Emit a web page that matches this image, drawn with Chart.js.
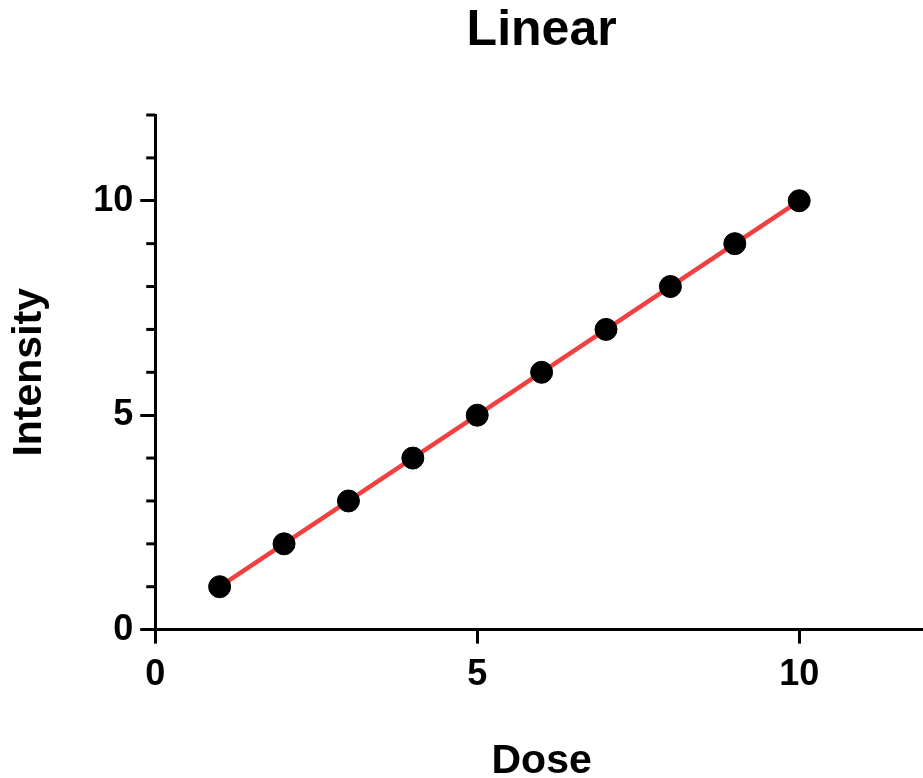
<!DOCTYPE html>
<html>
<head>
<meta charset="utf-8">
<script src="https://cdn.jsdelivr.net/npm/chart.js@4.4.0/dist/chart.umd.min.js"></script>
<style>
  html, body { margin: 0; padding: 0; background: #fff; overflow: hidden; }
  #wrap { width: 940px; height: 778px; }
</style>
</head>
<body>
<div id="wrap"><canvas id="chart"></canvas></div>
<script>
// data
const doses = [1, 2, 3, 4, 5, 6, 7, 8, 9, 10];
const intensity = [1, 2, 3, 4, 5, 6, 7, 8, 9, 10];
const fitX = [1, 10];
const fitY = [1, 10];
const yLabels = [0, 5, 10];
const xLabels = [0, 5, 10];

const FONT = '"Liberation Sans", Arial, Helvetica, sans-serif';

// minor ticks on the y axis are shorter than the labelled ones
const minorTicks = {
    id: 'minorTicks',
    afterDraw(chart) {
        const y = chart.scales.y;
        const ctx = chart.ctx;
        const left = chart.chartArea.left;
        ctx.save();
        ctx.strokeStyle = '#000';
        ctx.lineWidth = 3;
        y.ticks.forEach(t => {
            if (yLabels.includes(t.value)) return;
            const py = y.getPixelForValue(t.value);
            ctx.beginPath();
            ctx.moveTo(left - 9, py);
            ctx.lineTo(left, py);
            ctx.stroke();
        });
        ctx.restore();
    }
};

const ctx = document.getElementById('chart').getContext('2d');
new Chart(ctx, {
    type: 'scatter',
    data: {
        datasets: [{
            label: 'Data',
            data: doses.map((d, i) => ({ x: d, y: intensity[i] })),
            backgroundColor: '#000',
            borderColor: '#000',
            pointRadius: 11,
            pointHoverRadius: 11
        }, {
            label: 'Fit',
            data: fitX.map((d, i) => ({ x: d, y: fitY[i] })),
            showLine: true,
            borderColor: '#f23f3f',
            borderWidth: 4.5,
            pointRadius: 0
        }]
    },
    options: {
        responsive: true,
        maintainAspectRatio: false,
        animation: false,
        clip: false,
        layout: {
            padding: { left: 5, top: 0, bottom: -8, right: 0 }
        },
        scales: {
            x: {
                type: 'linear',
                min: 0,
                max: 12,
                border: { display: true, width: 3, color: '#000' },
                grid: {
                    drawOnChartArea: false,
                    drawTicks: true,
                    tickLength: 14,
                    tickWidth: 3,
                    tickColor: c => xLabels.includes(c.tick.value) ? '#000' : 'rgba(0,0,0,0)'
                },
                ticks: {
                    stepSize: 5,
                    color: '#000',
                    padding: 10,
                    font: { family: FONT, size: 36, weight: 'bold' },
                    callback: v => xLabels.includes(v) ? String(v) : ''
                },
                title: {
                    display: true,
                    text: 'Dose',
                    color: '#000',
                    padding: { top: 30, bottom: 0 },
                    font: { family: FONT, size: 41, weight: 'bold' }
                }
            },
            y: {
                min: 0,
                max: 12,
                border: { display: true, width: 3, color: '#000' },
                grid: {
                    drawOnChartArea: false,
                    drawTicks: true,
                    tickLength: 15,
                    tickWidth: 3,
                    tickColor: c => yLabels.includes(c.tick.value) ? '#000' : 'rgba(0,0,0,0)'
                },
                ticks: {
                    stepSize: 1,
                    autoSkip: false,
                    color: '#000',
                    padding: 7,
                    font: { family: FONT, size: 36, weight: 'bold' },
                    callback: v => yLabels.includes(v) ? String(v) : ''
                },
                title: {
                    display: true,
                    text: 'Intensity',
                    color: '#000',
                    padding: { top: 0, bottom: 32 },
                    font: { family: FONT, size: 41, weight: 'bold' }
                }
            }
        },
        plugins: {
            legend: { display: false },
            tooltip: { enabled: false },
            title: {
                display: true,
                text: 'Linear',
                fullSize: false,
                color: '#000',
                padding: { top: 1, bottom: 54 },
                font: { family: FONT, size: 50, weight: 'bold' }
            }
        }
    },
    plugins: [minorTicks]
});
</script>
</body>
</html>
